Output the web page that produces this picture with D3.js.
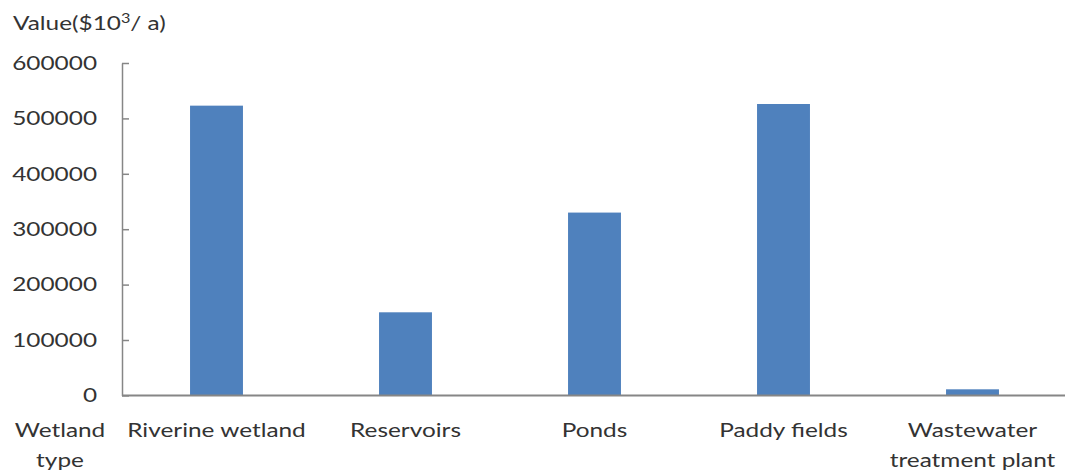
<!DOCTYPE html>
<html lang="en">
<head>
  <meta charset="UTF-8" />
  <title>Wetland service value</title>
  <style>
    body { margin: 0; background: #fff; }
    svg { display: block; }
    text { font-family: Lato, "Open Sans", sans-serif; fill: #333; }
  </style>
</head>
<body>
  <svg id="chart" width="1065" height="473"></svg>

  <script src="https://d3js.org/d3.v7.min.js"></script>
  <script>
    // data
    const wetlandTypes = ["Riverine wetland", "Reservoirs", "Ponds", "Paddy fields", "Wastewater treatment plant"];
    const typeLabelLines = [["Riverine wetland"], ["Reservoirs"], ["Ponds"], ["Paddy fields"], ["Wastewater", "treatment plant"]];
    const values = [523000, 150000, 330000, 526000, 11000];
    const yTicks = [0, 100000, 200000, 300000, 400000, 500000, 600000];
    const yTickLabels = ["0", "100000", "200000", "300000", "400000", "500000", "600000"];

    const sx = 1.25;          // the original text is drawn wide
    const fontSize = 19.5;
    const plotLeft = 122, plotTop = 63, plotBottom = 395.4, plotRight = 1067;

    const svg = d3.select("#chart");

    const x = d3.scaleBand()
      .domain(wetlandTypes)
      .range([plotLeft, plotRight])
      .paddingInner(0.72)
      .paddingOuter(0.36);

    const y = d3.scaleLinear()
      .domain([0, 600000])
      .range([plotBottom, plotTop]);

    // bars
    svg.append("g")
      .selectAll("rect")
      .data(wetlandTypes)
      .enter()
      .append("rect")
      .attr("x", d => x(d))
      .attr("width", x.bandwidth())
      .attr("y", (d, i) => y(values[i]))
      .attr("height", (d, i) => plotBottom - y(values[i]))
      .attr("fill", "#4f81bd");

    // y axis, ticks point into the plot
    const yAxis = svg.append("g")
      .attr("transform", `translate(${plotLeft},0)`)
      .call(d3.axisLeft(y)
        .tickValues(yTicks)
        .tickFormat((d, i) => yTickLabels[i])
        .tickSizeInner(-7)
        .tickSizeOuter(0)
        .tickPadding(25));
    yAxis.select(".domain").attr("stroke", "#868686").attr("stroke-width", 1.5);
    yAxis.selectAll(".tick line").attr("stroke", "#868686").attr("stroke-width", 1.5);
    yAxis.selectAll(".tick text")
      .attr("fill", "#333")
      .style("font-family", "Lato, 'Open Sans', sans-serif")
      .style("font-size", fontSize + "px")
      .attr("x", -25 / sx)
      .attr("transform", `scale(${sx},1)`);

    // x axis line
    svg.append("line")
      .attr("x1", plotLeft).attr("x2", 1065)
      .attr("y1", plotBottom).attr("y2", plotBottom)
      .attr("stroke", "#868686")
      .attr("stroke-width", 2);

    // category labels
    const catLabel = svg.append("g")
      .selectAll("text")
      .data(wetlandTypes)
      .enter()
      .append("text")
      .attr("text-anchor", "middle")
      .style("font-size", fontSize + "px")
      .attr("transform", d => `translate(${x(d) + x.bandwidth() / 2},437) scale(${sx},1)`);
    catLabel.selectAll("tspan")
      .data((d, i) => typeLabelLines[i])
      .enter()
      .append("tspan")
      .attr("x", 0)
      .attr("y", (d, i) => i * 30)
      .text(d => d);

    // axis titles
    const xTitle = svg.append("text")
      .attr("text-anchor", "middle")
      .style("font-size", fontSize + "px")
      .attr("transform", `translate(60,437) scale(${sx},1)`);
    xTitle.append("tspan").attr("x", 0).attr("y", 0).text("Wetland");
    xTitle.append("tspan").attr("x", 0).attr("y", 30).text("type");

    const yTitle = svg.append("text")
      .style("font-size", fontSize + "px")
      .attr("transform", `translate(13,30) scale(${sx},1)`);
    yTitle.append("tspan").text("Value($10");
    yTitle.append("tspan").attr("dy", -7).style("font-size", "13px").text("3");
    yTitle.append("tspan").attr("dy", 7).text("/ a)");
  </script>
</body>
</html>
